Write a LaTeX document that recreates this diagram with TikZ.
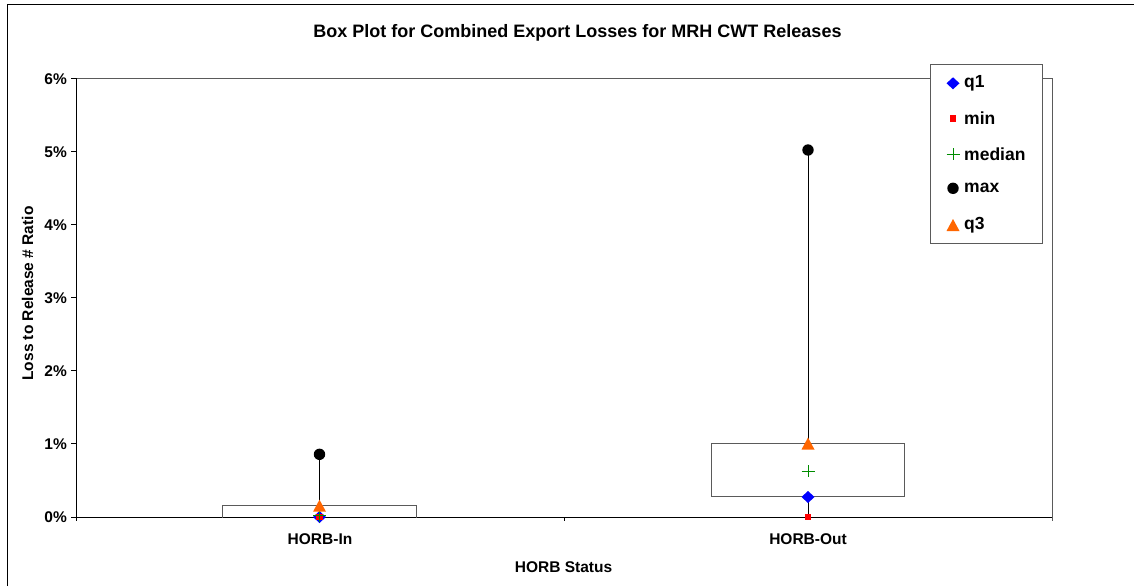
\documentclass[tikz,border=0pt]{standalone}
\usepackage{fontspec}
\setmainfont{Liberation Sans}
\definecolor{q1col}{RGB}{0,0,255}
\definecolor{mincol}{RGB}{255,0,0}
\definecolor{medcol}{RGB}{0,140,0}
\definecolor{q3col}{RGB}{255,102,0}
\definecolor{framegray}{RGB}{90,90,90}
\begin{document}
\begin{tikzpicture}[x=1pt,y=-1pt,
  lab/.style={font=\fontsize{15.5}{18}\selectfont\bfseries, inner sep=0pt},
  ticklab/.style={lab, anchor=east},
  legtext/.style={font=\fontsize{17.5}{20}\selectfont\bfseries, inner sep=0pt, anchor=west},
  whisker/.style={draw=black, line width=1pt},
  boxst/.style={draw=framegray, fill=white, line width=1pt},
  q1mark/.pic={\fill[q1col] (-6.5,0) -- (0,-6) -- (6.5,0) -- (0,6) -- cycle;},
  minmark/.pic={\fill[mincol] (-3.4,-3.4) rectangle (3.4,3.4);},
  medmark/.pic={\draw[medcol, line width=1pt] (-6.5,0) -- (6.5,0) (0,-6) -- (0,6);},
  maxmark/.pic={\fill[black] (0,0) circle (5.7);},
  q3mark/.pic={\fill[q3col] (-6.5,6) -- (6.5,6) -- (0,-6) -- cycle;}
]
\useasboundingbox (0,0) rectangle (1134,586);
% outer chart frame
\draw[black, line width=1pt] (7,586) -- (7,5) -- (1134,5);
% title
\node[font=\fontsize{18}{21}\selectfont\bfseries, inner sep=0pt] (title) at (577.5,33) {Box Plot for Combined Export Losses for MRH CWT Releases};
% plot area border
\draw[framegray, line width=1pt] (76,78.3) -- (1052,78.3) -- (1052,521);
% axes
\draw[black, line width=1pt] (76,78.3) -- (76,521);
\draw[black, line width=1pt] (76,517) -- (1052,517);
\draw[black, line width=1pt] (564,517) -- (564,521);
% y ticks and labels
\foreach \v in {0,...,6}{
  \pgfmathsetmacro{\yy}{517-73.05*\v}
  \draw[black, line width=1pt] (71,\yy) -- (76,\yy);
  \node[ticklab] (yl\v) at (67,\yy) {\v\%};
}
% axis titles
\node[lab, rotate=90] (ytitle) at (27.5,293.5) {Loss to Release \# Ratio};
\node[lab] (xtitle) at (563.5,566.7) {HORB Status};
\node[lab] (catIn) at (320,539) {HORB-In};
\node[lab] (catOut) at (808,539) {HORB-Out};
% data coordinates HORB-In
\coordinate (inMin) at (319.5,517);
\coordinate (inQ1) at (319.5,517);
\coordinate (inMed) at (319.5,515.5);
\coordinate (inMax) at (319.5,454.3);
\coordinate (inQ3) at (319.5,505.7);
% data coordinates HORB-Out
\coordinate (outMin) at (808,517);
\coordinate (outQ1) at (808,497);
\coordinate (outMed) at (808,471);
\coordinate (outMax) at (808,150);
\coordinate (outQ3) at (808,443.5);
% whiskers
\draw[whisker] (inMin) -- (inMax);
\draw[whisker] (outMin) -- (outMax);
% boxes
\draw[boxst] (222.7,505.7) rectangle (416,517);
\draw[boxst] (711,443.3) rectangle (904.3,496.7);
\draw[black, line width=1pt] (222.7,517) -- (416,517);
% markers
\pic at (inQ1) {q1mark};
\pic at (inMin) {minmark};
\pic at (inMed) {medmark};
\pic at (inMax) {maxmark};
\pic at (inQ3) {q3mark};
\pic at (outQ1) {q1mark};
\pic at (outMin) {minmark};
\pic at (outMed) {medmark};
\pic at (outMax) {maxmark};
\pic at (outQ3) {q3mark};
% legend
\draw[framegray, fill=white, line width=1pt] (930,64) rectangle (1042,243);
\pic at (953,83.3) {q1mark};
\node[legtext] (lq1) at (964,83.3) {q1};
\pic at (953,118.3) {minmark};
\node[legtext] (lmin) at (964,118.3) {min};
\pic at (953,154) {medmark};
\node[legtext] (lmed) at (964,154) {median};
\pic at (953,188.3) {maxmark};
\node[legtext] (lmax) at (964,188.3) {max};
\pic at (953,225) {q3mark};
\node[legtext] (lq3) at (964,225) {q3};
\end{tikzpicture}
\end{document}
